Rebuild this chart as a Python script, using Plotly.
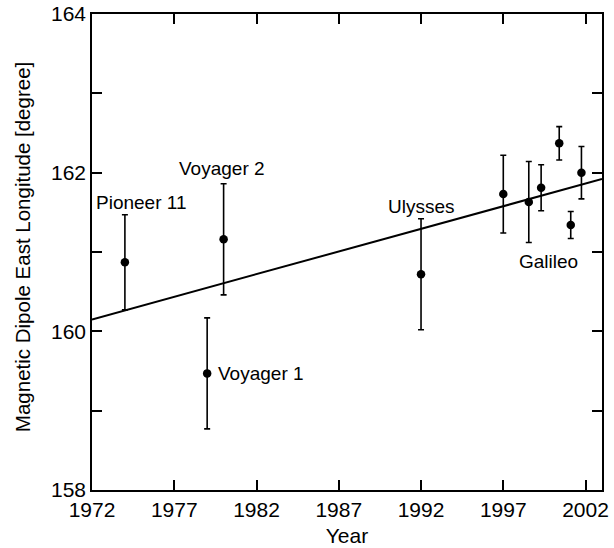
import plotly.graph_objects as go

# Data
years = [1974.0, 1979.0, 1980.0, 1992.0, 1997.0, 1998.55, 1999.3, 2000.4, 2001.1, 2001.75]
longitudes = [160.87, 159.47, 161.16, 160.72, 161.73, 161.63, 161.81, 162.37, 161.34, 162.00]
errors = [0.60, 0.70, 0.70, 0.70, 0.49, 0.51, 0.29, 0.21, 0.17, 0.33]

fit_years = [1972, 2003]
fit_values = [160.15, 161.92]

label_texts = ["Pioneer 11", "Voyager 2", "Voyager 1", "Ulysses", "Galileo"]
label_x = [1975.0, 1979.9, 1979.55, 1992.0, 1999.75]
label_y = [161.63, 162.05, 159.47, 161.57, 160.88]
label_anchor = ["center", "center", "left", "center", "center"]

x_ticks = [1972, 1977, 1982, 1987, 1992, 1997, 2002]
y_ticks = [158, 160, 162, 164]

FONT = "Liberation Sans, Arial, Helvetica, sans-serif"

fig = go.Figure()
fig.add_trace(go.Scatter(
    x=fit_years, y=fit_values, mode="lines",
    line=dict(color="black", width=2), showlegend=False, hoverinfo="skip"))
fig.add_trace(go.Scatter(
    x=years, y=longitudes, mode="markers",
    marker=dict(color="black", size=8.5),
    error_y=dict(type="data", array=errors, visible=True, color="black", thickness=1.6, width=3),
    showlegend=False))

for t, x, y, a in zip(label_texts, label_x, label_y, label_anchor):
    fig.add_annotation(x=x, y=y, text=t, showarrow=False, xanchor=a, yanchor="middle",
                       font=dict(family=FONT, size=19, color="black"))

# y-axis title placed as a rotated annotation for exact positioning
fig.add_annotation(xref="paper", yref="paper", x=-0.137, y=0.5105,
                   text="Magnetic Dipole East Longitude [degree]", textangle=-90,
                   showarrow=False, xanchor="center", yanchor="middle",
                   font=dict(family=FONT, size=20.5, color="black"))

axis_common = dict(
    showline=True, linecolor="black", linewidth=1.5, mirror="ticks",
    ticks="inside", ticklen=10, tickwidth=1.5, tickcolor="black",
    showgrid=False, zeroline=False, automargin=False,
    tickfont=dict(family=FONT, size=21, color="black"),
)

fig.update_layout(
    width=614, height=548,
    margin=dict(l=92, r=12, t=14, b=58, autoexpand=False),
    plot_bgcolor="white", paper_bgcolor="white",
    font=dict(family=FONT, color="black"),
    xaxis=dict(range=[1972, 2003], tickvals=x_ticks, ticktext=[str(v) for v in x_ticks],
               title=dict(text="Year", font=dict(family=FONT, size=21), standoff=8),
               **axis_common),
    yaxis=dict(range=[158, 164], tickvals=y_ticks, ticktext=[str(v) for v in y_ticks],
               minor=dict(dtick=1, ticks="inside", ticklen=10, tickwidth=1.5, tickcolor="black", showgrid=False),
               **axis_common),
)

# remove the default 8px page margin so the figure sits at the window's top-left corner
fig.write_html("out.html", config={"displayModeBar": False},
               post_script="document.body.style.margin='0';")
